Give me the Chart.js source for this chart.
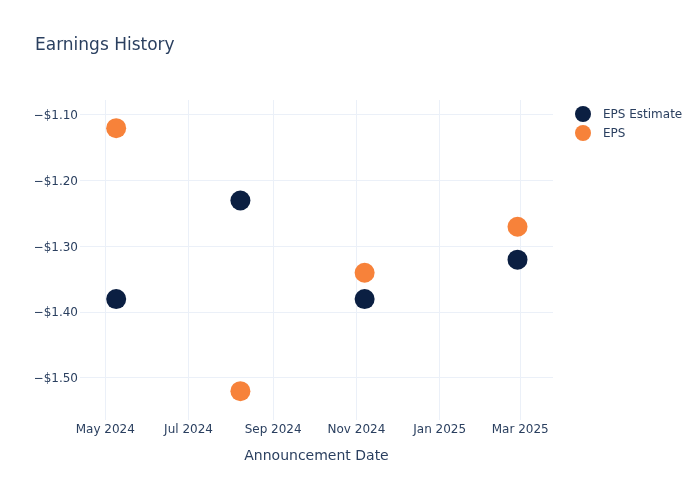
<!DOCTYPE html>
<html>
<head>
<meta charset="utf-8">
<script src="https://cdn.jsdelivr.net/npm/chart.js@4.4.1/dist/chart.umd.min.js"></script>
<style>
  html, body { margin: 0; padding: 0; background: #ffffff; }
  #wrap { width: 700px; height: 500px; position: relative; }
</style>
</head>
<body>
<div id="wrap"><canvas id="c" width="700" height="500"></canvas></div>
<script>
// ---- data ----
const announcementDates = ['2024-05-09', '2024-08-08', '2024-11-07', '2025-02-27'];
const epsEstimate = [-1.38, -1.23, -1.38, -1.32];
const epsActual = [-1.12, -1.52, -1.34, -1.27];
const xTickDates = ['2024-05-01', '2024-07-01', '2024-09-01', '2024-11-01', '2025-01-01', '2025-03-01'];
const yTickValues = [-1.5, -1.4, -1.3, -1.2, -1.1];
const seriesNames = ['EPS Estimate', 'EPS'];
const seriesColors = ['#0b1f42', '#f7823a'];

const MONTHS = ['Jan','Feb','Mar','Apr','May','Jun','Jul','Aug','Sep','Oct','Nov','Dec'];
function toMs(s) { const [y, m, d] = s.split('-').map(Number); return Date.UTC(y, m - 1, d); }
function fmtDate(v) { const d = new Date(v); return MONTHS[d.getUTCMonth()] + ' ' + d.getUTCFullYear(); }
function fmtMoney(v) { return (v < 0 ? '\u2212' : '') + '$' + Math.abs(v).toFixed(2); }

const FONT = 'DejaVu Sans';
const TEXT = '#2a3f5f';
const GRID = '#ebf0f8';

const xMin = toMs('2024-04-12') + 12 * 3600000;
const xMax = toMs('2025-03-25');

const legendPlugin = {
  id: 'sideLegend',
  afterDraw(chart) {
    const ctx = chart.ctx;
    ctx.save();
    seriesNames.forEach((name, i) => {
      const y = 114 + i * 19;
      ctx.beginPath();
      ctx.arc(583, y, 8, 0, Math.PI * 2);
      ctx.fillStyle = seriesColors[i];
      ctx.fill();
      ctx.fillStyle = TEXT;
      ctx.font = '12px "' + FONT + '"';
      ctx.textAlign = 'left';
      ctx.textBaseline = 'middle';
      ctx.fillText(name, 603, y + 0.5);
    });
    ctx.restore();
  }
};

new Chart(document.getElementById('c'), {
  type: 'scatter',
  data: {
    datasets: [
      {
        label: seriesNames[0],
        data: announcementDates.map((d, i) => ({ x: toMs(d), y: epsEstimate[i] })),
        backgroundColor: seriesColors[0],
        borderColor: seriesColors[0],
        borderWidth: 0,
        pointRadius: 10,
        pointHoverRadius: 10
      },
      {
        label: seriesNames[1],
        data: announcementDates.map((d, i) => ({ x: toMs(d), y: epsActual[i] })),
        backgroundColor: seriesColors[1],
        borderColor: seriesColors[1],
        borderWidth: 0,
        pointRadius: 10,
        pointHoverRadius: 10
      }
    ]
  },
  options: {
    responsive: false,
    animation: false,
    devicePixelRatio: 1,
    layout: { padding: { left: 35, right: 147, top: 0, bottom: 0 } },
    plugins: {
      legend: { display: false },
      tooltip: { enabled: false },
      title: {
        display: true,
        text: 'Earnings History',
        align: 'start',
        color: TEXT,
        font: { family: FONT, size: 17, weight: 'normal', lineHeight: 1.2 },
        padding: { top: 35, bottom: 44.6 }
      }
    },
    scales: {
      x: {
        type: 'linear',
        min: xMin,
        max: xMax,
        afterBuildTicks(scale) { scale.ticks = xTickDates.map(d => ({ value: toMs(d) })); },
        afterFit(scale) { scale.height = 80; },
        ticks: {
          color: TEXT,
          font: { family: FONT, size: 12 },
          padding: 3,
          maxRotation: 0,
          autoSkip: false,
          callback: (v) => fmtDate(v)
        },
        grid: { color: GRID, lineWidth: 1, drawTicks: false },
        border: { display: false },
        title: {
          display: true,
          text: 'Announcement Date',
          color: TEXT,
          font: { family: FONT, size: 14, lineHeight: 1.2 },
          padding: { top: 0, bottom: 35.6 }
        }
      },
      y: {
        type: 'linear',
        min: -1.5639,
        max: -1.0772,
        afterBuildTicks(scale) { scale.ticks = yTickValues.map(v => ({ value: v })); },
        afterFit(scale) { scale.width = 45; },
        ticks: {
          color: TEXT,
          font: { family: FONT, size: 12 },
          padding: 2,
          labelOffset: 1,
          callback: (v) => fmtMoney(v)
        },
        grid: { color: GRID, lineWidth: 1, drawTicks: false },
        border: { display: false }
      }
    }
  },
  plugins: [legendPlugin]
});
</script>
</body>
</html>
